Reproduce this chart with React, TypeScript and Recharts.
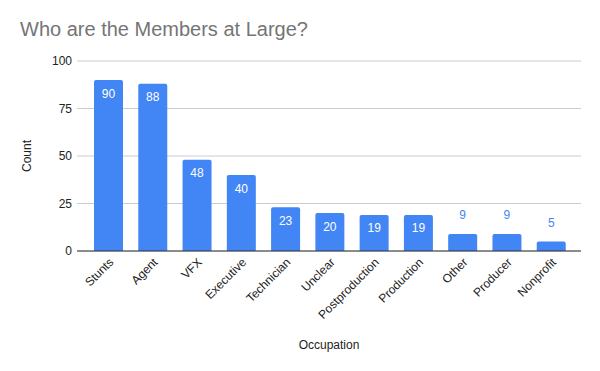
import React from 'react';
import { BarChart, Bar, XAxis, YAxis, CartesianGrid, LabelList, Label } from 'recharts';

const occupations = ['Stunts', 'Agent', 'VFX', 'Executive', 'Technician', 'Unclear', 'Postproduction', 'Production', 'Other', 'Producer', 'Nonprofit'];
const counts = [90, 88, 48, 40, 23, 20, 19, 19, 9, 9, 5];
const yTicks = [0, 25, 50, 75, 100];

const data = occupations.map((name, i) => ({ name, count: counts[i] }));

const BLUE = '#4285f4';

const BarValue = (props: any) => {
  const { x, y, width, value } = props;
  const cx = x + width / 2;
  if (value >= 15) {
    return (
      <text x={cx} y={y + 13.5} textAnchor="middle" dominantBaseline="central" fill="#fff" fontSize={12} fontFamily="Arial, 'Liberation Sans', sans-serif">
        {value}
      </text>
    );
  }
  return (
    <text x={cx} y={y - 19} textAnchor="middle" dominantBaseline="central" fill={BLUE} fontSize={12} fontFamily="Arial, 'Liberation Sans', sans-serif">
      {value}
    </text>
  );
};

export default function App() {
  const font = "Arial, 'Liberation Sans', sans-serif";
  return (
    <div style={{ position: 'relative', width: 600, height: 371, background: '#fff', fontFamily: font }}>
      <style>{`body{margin:0}`}</style>
      <div style={{ position: 'absolute', left: 20, top: 18, fontSize: 20, color: '#757575', lineHeight: '22px' }}>
        Who are the Members at Large?
      </div>
      <BarChart
        width={600}
        height={371}
        data={data}
        margin={{ top: 61, right: 19, bottom: 0, left: 20 }}
        barCategoryGap="34%"
      >
        <CartesianGrid vertical={false} stroke="#cccccc" />
        <XAxis
          dataKey="name"
          interval={0}
          height={120}
          padding={{ left: 9, right: 8 }}
          tickLine={false}
          axisLine={{ stroke: '#333333' }}
          angle={-45}
          textAnchor="end"
          tick={{ fontSize: 12, fill: '#222222', fontFamily: font }}
          tickSize={0}
          tickMargin={6}
        >
          <Label value="Occupation" position="insideBottom" offset={22} style={{ fontSize: 12, fill: '#222222', fontFamily: font }} />
        </XAxis>
        <YAxis
          domain={[0, 100]}
          ticks={yTicks}
          width={57}
          axisLine={false}
          tickLine={false}
          tickSize={0}
          tickMargin={5}
          tick={{ fontSize: 12, fill: '#222222', fontFamily: font }}
        >
          <Label value="Count" angle={-90} position="insideLeft" offset={0} dx={7} style={{ fontSize: 12, fill: '#222222', fontFamily: font, textAnchor: 'middle' }} />
        </YAxis>
        <Bar dataKey="count" fill={BLUE} barSize={29} radius={[2, 2, 0, 0]} isAnimationActive={false}>
          <LabelList dataKey="count" content={<BarValue />} />
        </Bar>
      </BarChart>
    </div>
  );
}
